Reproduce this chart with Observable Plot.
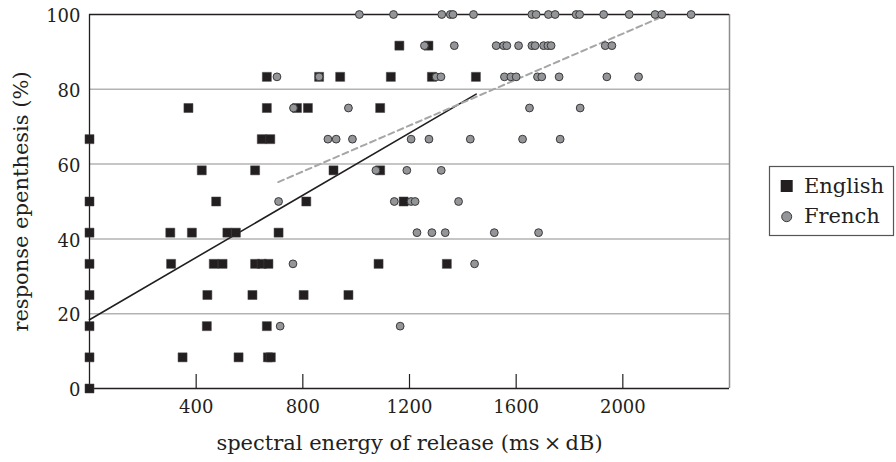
<!DOCTYPE html>
<html><head><meta charset="utf-8">
<script src="https://cdn.jsdelivr.net/npm/d3@7"></script>
<script src="https://cdn.jsdelivr.net/npm/@observablehq/plot@0.6"></script>
<style>
body{margin:0;background:#fff;}
#wrap{position:relative;width:896px;height:462px;}
#legend{position:absolute;left:0;top:0;pointer-events:none;}
</style></head><body><div id="wrap"></div>
<script>
const seriesNames = ["English", "French"];
const xTicks = [400, 800, 1200, 1600, 2000];
const yTicks = [0, 20, 40, 60, 80, 100];
const yGrid = [20, 40, 60, 80];
const xDomain = [0, 2400];
const yDomain = [0, 100];
const xTitle = "spectral energy of release (ms\u2009\u00d7\u2009dB)";
const yTitle = "response epenthesis (%)";

const englishX = [
  1162, 1271,
  665, 861, 940, 1130, 1284, 1449,
  371, 665, 778, 819, 1090,
  0, 646, 678,
  421, 621, 915, 1090,
  0, 475, 813, 1178,
  0, 303, 384, 517, 549, 709,
  0, 306, 466, 499, 621, 646, 671, 1084, 1340,
  0, 442, 611, 803, 971,
  0, 440, 665,
  0, 349, 559, 669, 680,
  0
];
const englishY = [
  91.67, 91.67,
  83.33, 83.33, 83.33, 83.33, 83.33, 83.33,
  75, 75, 75, 75, 75,
  66.67, 66.67, 66.67,
  58.33, 58.33, 58.33, 58.33,
  50, 50, 50, 50,
  41.67, 41.67, 41.67, 41.67, 41.67, 41.67,
  33.33, 33.33, 33.33, 33.33, 33.33, 33.33, 33.33, 33.33, 33.33,
  25, 25, 25, 25, 25,
  16.67, 16.67, 16.67,
  8.33, 8.33, 8.33, 8.33, 8.33,
  0
];
const frenchX = [
  1012, 1140, 1321, 1353, 1363, 1440, 1659, 1675, 1721, 1746, 1825, 1838, 1928, 2024, 2121, 2146, 2256,
  1256, 1368, 1525, 1553, 1565, 1609, 1659, 1671, 1703, 1719, 1731, 1934, 1959,
  703, 861, 1300, 1318, 1556, 1580, 1600, 1680, 1696, 1761, 1940, 2059,
  765, 971, 1650, 1840,
  894, 925, 986, 1206, 1273, 1428, 1624, 1765,
  1074, 1190, 1319,
  709, 1143, 1206, 1221, 1384,
  1228, 1284, 1334, 1518, 1684,
  763, 1444,
  715, 1165
];
const frenchY = [
  100, 100, 100, 100, 100, 100, 100, 100, 100, 100, 100, 100, 100, 100, 100, 100, 100,
  91.67, 91.67, 91.67, 91.67, 91.67, 91.67, 91.67, 91.67, 91.67, 91.67, 91.67, 91.67, 91.67,
  83.33, 83.33, 83.33, 83.33, 83.33, 83.33, 83.33, 83.33, 83.33, 83.33, 83.33, 83.33,
  75, 75, 75, 75,
  66.67, 66.67, 66.67, 66.67, 66.67, 66.67, 66.67, 66.67,
  58.33, 58.33, 58.33,
  50, 50, 50, 50, 50,
  41.67, 41.67, 41.67, 41.67, 41.67,
  33.33, 33.33,
  16.67, 16.67
];
const englishFitX = [0, 1450];
const englishFitY = [18.4, 78.7];
const frenchFitX = [708, 2134];
const frenchFitY = [55.2, 99];

const zip = (xs, ys) => xs.map((x, i) => ({x, y: ys[i]}));
const english = zip(englishX, englishY);
const french = zip(frenchX, frenchY);
const englishFit = zip(englishFitX, englishFitY);
const frenchFit = zip(frenchFitX, frenchFitY);

const FONT = '"DejaVu Serif", "Liberation Serif", serif';
const INK = "#231f20";

const plot = Plot.plot({
  width: 896, height: 462,
  marginLeft: 89, marginRight: 167, marginTop: 14, marginBottom: 74,
  style: {fontFamily: FONT, background: "#fff", color: INK},
  x: {domain: xDomain},
  y: {domain: yDomain},
  marks: [
    Plot.ruleY(yGrid, {stroke: "#b3b3b3", strokeWidth: 1.5}),
    Plot.ruleX([xDomain[1]], {stroke: "#8c8c8c", strokeWidth: 1.5}),
    Plot.ruleY([yDomain[0], yDomain[1]], {stroke: INK, strokeWidth: 1.3}),
    Plot.ruleX([xDomain[0]], {stroke: INK, strokeWidth: 1.3}),
    Plot.ruleX(xTicks, {stroke: INK, strokeWidth: 1.2, insetTop: 360}),
    Plot.axisX({ticks: xTicks, tickSize: 0, tickPadding: 12, fontSize: 18, tickFormat: "d", label: null}),
    Plot.axisY({ticks: yTicks, tickSize: 0, tickPadding: 9, fontSize: 18, dy: 2, label: null}),
    Plot.line(englishFit, {x: "x", y: "y", stroke: INK, strokeWidth: 1.6}),
    Plot.line(frenchFit, {x: "x", y: "y", stroke: "#a6a6a6", strokeWidth: 2, strokeDasharray: "6,4"}),
    Plot.dot(english, {x: "x", y: "y", symbol: "square", r: 5.1, fill: INK, stroke: "#444", strokeWidth: 0.5}),
    Plot.dot(french, {x: "x", y: "y", r: 3.9, fill: "#939598", stroke: "#3a3a3a", strokeWidth: 1}),
    Plot.text([xTitle], {text: d => d, frameAnchor: "bottom", dy: 61, fontSize: 21}),
    Plot.text([yTitle], {text: d => d, frameAnchor: "left", textAnchor: "middle", dx: -68, rotate: -90, fontSize: 21})
  ]
});
const wrap = document.getElementById("wrap");
wrap.appendChild(plot);

// legend
const lg = d3.select(wrap).append("svg").attr("id", "legend").attr("width", 896).attr("height", 462)
  .style("font-family", FONT);
lg.append("rect").attr("x", 769.5).attr("y", 166.5).attr("width", 124).attr("height", 69)
  .attr("fill", "#fff").attr("stroke", "#555").attr("stroke-width", 1.2);
lg.append("rect").attr("x", 780.7).attr("y", 180).attr("width", 12).attr("height", 12).attr("fill", INK);
lg.append("circle").attr("cx", 786.7).attr("cy", 216.7).attr("r", 5).attr("fill", "#939598").attr("stroke", "#3a3a3a");
seriesNames.forEach((name, i) => {
  lg.append("text").attr("x", 804).attr("y", 193.3 + i * 30).attr("font-size", 21).attr("fill", INK).text(name);
});
</script></body></html>
